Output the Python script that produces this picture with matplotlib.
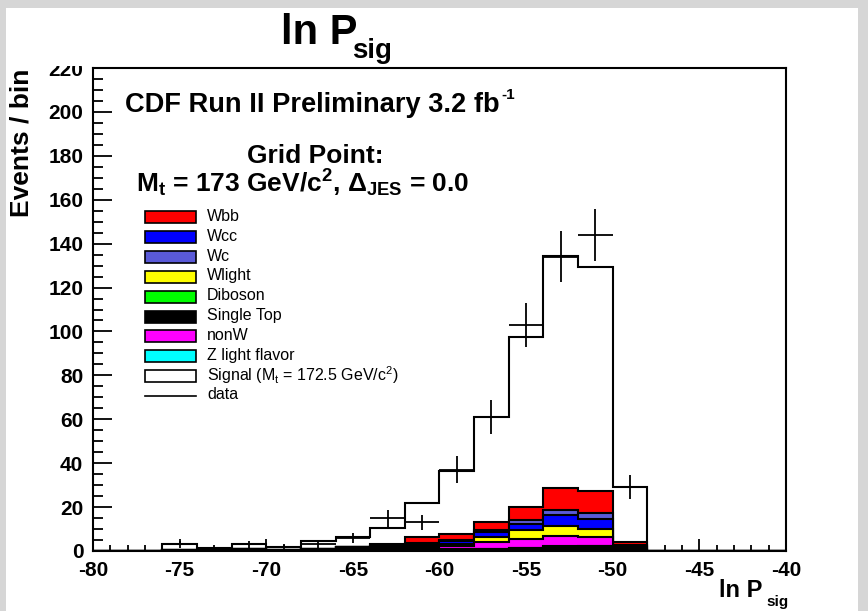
import numpy as np
import matplotlib.pyplot as plt
from matplotlib.patches import Rectangle
from matplotlib.lines import Line2D
from matplotlib.transforms import Bbox, TransformedBbox

plt.rcParams['font.family'] = ['Liberation Sans', 'DejaVu Sans']
plt.rcParams['axes.unicode_minus'] = False
plt.rcParams['mathtext.fontset'] = 'custom'
plt.rcParams['mathtext.rm'] = 'Liberation Sans'
plt.rcParams['mathtext.bf'] = 'Liberation Sans:bold'
plt.rcParams['mathtext.it'] = 'Liberation Sans:italic'

# histogram binning: ln P_sig from -80 to -40, 2 per bin
edges = np.arange(-80, -38, 2)
centers = edges[:-1] + 1

# background components, per bin (events)
diboson    = [0, 0, 0, 0, 0, 0, 0, 0, 0, 0, 0.2, 0, 0, 0.8, 0.8, 0.2, 0, 0, 0, 0]
single_top = [0, 0, 0.4, 0.3, 0.8, 0.5, 0.8, 1.6, 0.2, 0.3, 0.5, 0.9, 1.4, 0.8, 1.5, 0.3, 0, 0, 0, 0]
zlight     = [0, 0, 0, 0, 0, 0, 0, 0, 0, 0, 0, 0, 0, 0.8, 0, 0, 0, 0, 0, 0]
nonw       = [0, 0, 0, 0, 0, 0, 0, 0, 0.7, 0.9, 1.5, 3.0, 4.1, 4.5, 3.9, 0.3, 0, 0, 0, 0]
wlight     = [0, 0, 0, 0, 0, 0, 0, 0, 0.7, 1.2, 1.1, 2.3, 4.1, 4.4, 3.8, 1.0, 0, 0, 0, 0]
wcc        = [0, 0, 0, 0, 0, 0, 0, 0, 0.6, 0.8, 1.3, 2.6, 2.7, 5.3, 4.8, 0.5, 0, 0, 0, 0]
wc         = [0, 0, 0, 0, 0, 0, 0, 0, 0.4, 0.6, 0.5, 0.6, 1.8, 2.3, 2.3, 0.3, 0, 0, 0, 0]
wbb        = [0, 0, 0, 0, 0, 0, 0, 0, 0.4, 2.4, 2.8, 3.8, 6.1, 9.8, 10.3, 1.6, 0, 0, 0, 0]
signal     = [0, 0, 2.8, 0.9, 2.4, 1.2, 3.7, 4.6, 7.4, 15.8, 28.4, 47.8, 77.4, 105.7, 102.1, 25.1, 0, 0, 0, 0]

data     = np.array([0, 0, 3, 1, 3, 2, 3, 6, 15, 13, 37, 61, 103, 134, 144, 29, 0, 0, 0, 0])
data_err = np.array([0, 0, 1.7, 1.0, 1.7, 1.4, 1.7, 2.4, 3.9, 3.6, 6.1, 7.8, 10.1, 11.6, 12.0, 5.4, 0, 0, 0, 0])

# stacking order, bottom to top
layers = [
    (diboson, '#00ff00'),
    (single_top, '#000000'),
    (zlight, '#00ffff'),
    (nonw, '#ff00ff'),
    (wlight, '#ffff00'),
    (wcc, '#0000ff'),
    (wc, '#5a5ad8'),
    (wbb, '#ff0000'),
    (signal, '#ffffff'),
]

legend_rows = [
    ('Wbb', '#ff0000'),
    ('Wcc', '#0000ff'),
    ('Wc', '#5a5ad8'),
    ('Wlight', '#ffff00'),
    ('Diboson', '#00ff00'),
    ('Single Top', '#000000'),
    ('nonW', '#ff00ff'),
    ('Z light flavor', '#00ffff'),
    (r'Signal (M$_{\mathrm{t}}$ = 172.5 GeV/c$^{\mathrm{2}}$)', '#ffffff'),
]

W, H = 868, 611
fig = plt.figure(figsize=(W / 100, H / 100), dpi=100)
fig.patch.set_facecolor('#d6d6d6')
fig.add_artist(Rectangle((6 / W, 0), (858 - 6) / W, (H - 8) / H,
                         transform=fig.transFigure, fc='white', ec='none', zorder=-10))

ax = fig.add_axes([93 / W, (H - 551) / H, (786 - 93) / W, (551 - 68) / H])
ax.set_axisbelow(True)

cum = np.cumsum([np.array(v, dtype=float) for v, _ in layers], axis=0)
for k in reversed(range(len(layers))):
    ax.stairs(cum[k], edges, baseline=0, fill=True,
              facecolor=layers[k][1], edgecolor='black', lw=1.5)

m = data > 0
ax.errorbar(centers[m], data[m], xerr=1, yerr=data_err[m], fmt='none',
            ecolor='black', elinewidth=1.3, capsize=0, zorder=5)

ax.set_xlim(-80, -40)
ax.set_ylim(0, 220)
ax.set_xticks(np.arange(-80, -39, 5))
ax.set_xticks(np.arange(-80, -39, 1), minor=True)
ax.set_yticks(np.arange(0, 221, 20))
ax.set_yticks(np.arange(0, 221, 5), minor=True)
ax.tick_params(axis='x', which='major', direction='in', length=9, width=1.3, pad=7, labelsize=15)
ax.tick_params(axis='x', which='minor', direction='in', length=4.5, width=1.3)
ax.tick_params(axis='y', which='major', direction='in', length=14, width=1.3, pad=7, labelsize=15)
ax.tick_params(axis='y', which='minor', direction='in', length=7, width=1.3)
for lab in ax.get_xticklabels() + ax.get_yticklabels():
    lab.set_fontweight('bold')
for s in ax.spines.values():
    s.set_linewidth(1.5)

# the top "220" label is cut off in the original
top_lab = ax.get_yticklabels()[-1]
top_lab.set_clip_box(TransformedBbox(Bbox([[0, 0], [1, 1 - 66 / H]]), fig.transFigure))
top_lab.set_clip_on(True)

# titles and axis labels
fig.text(357 / W, 1 - 44 / H, 'ln P', ha='right', va='baseline', size=30, weight='bold')
fig.text(352 / W, 1 - 58 / H, 'sig', ha='left', va='baseline', size=20, weight='bold')
fig.text(762 / W, 1 - 597 / H, 'ln P', ha='right', va='baseline', size=17, weight='bold')
fig.text(766 / W, 1 - 606 / H, 'sig', ha='left', va='baseline', size=11, weight='bold')
fig.text(22 / W, 1 - 143 / H, 'Events / bin', rotation=90, ha='center', va='center',
         size=19, weight='bold')

cdf = fig.text(125 / W, 1 - 112 / H, 'CDF Run II Preliminary 3.2 fb',
               ha='left', va='baseline', size=19.6, weight='bold')
ax.annotate('-1', xy=(1, 0.62), xycoords=cdf, xytext=(1, 0), textcoords='offset points',
            ha='left', va='bottom', size=11, weight='bold', annotation_clip=False)
fig.text(315 / W, 1 - 163 / H, 'Grid Point:', ha='center', va='baseline', size=19, weight='bold')
fig.text(303 / W, 1 - 192 / H,
         r'$\mathbf{M_t}$ = 173 GeV/c$^{\mathbf{2}}$, $\mathbf{\Delta_{JES}}$ = 0.0',
         ha='center', va='baseline', size=19, weight='bold')

# legend
y0, dy = 217.5, 19.8
for i, (label, color) in enumerate(legend_rows):
    yc = y0 + i * dy
    fig.add_artist(Rectangle((145 / W, 1 - (yc + 6) / H), 51 / W, 12 / H,
                             transform=fig.transFigure, fc=color, ec='black', lw=1.2))
    fig.text(207 / W, 1 - (yc - 1) / H, label, ha='left', va='center', size=11.5)
yc = y0 + len(legend_rows) * dy
fig.add_artist(Line2D([145 / W, 196 / W], [1 - yc / H, 1 - yc / H],
                      transform=fig.transFigure, color='black', lw=1.2))
fig.text(207 / W, 1 - (yc - 1) / H, 'data', ha='left', va='center', size=11.5)

fig.savefig('out.png', dpi=100, facecolor=fig.get_facecolor())
